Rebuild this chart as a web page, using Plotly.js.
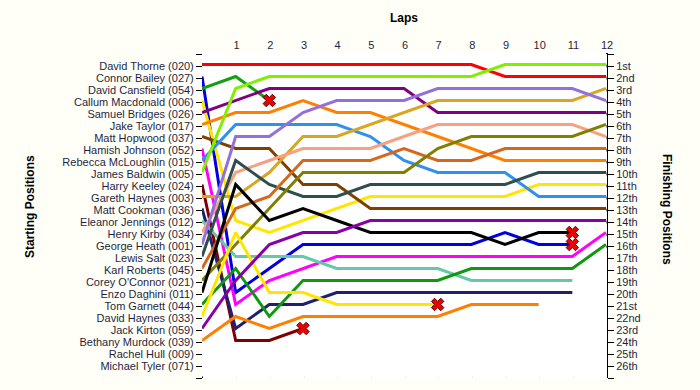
<!DOCTYPE html>
<html>
<head>
<meta charset="utf-8">
<script src="https://cdn.plot.ly/plotly-3.0.1.min.js"></script>
<style>
  html, body { margin: 0; padding: 0; background: #fffff8; }
  #chart { width: 700px; height: 390px; }
</style>
</head>
<body>
<div id="chart"></div>
<script>
// ---------- data ----------
const laps = [0, 1, 2, 3, 4, 5, 6, 7, 8, 9, 10, 11, 12];
const lapTickLabels = ["1", "2", "3", "4", "5", "6", "7", "8", "9", "10", "11", "12"];

const startingGrid = [
  "David Thorne (020)", "Connor Bailey (027)", "David Cansfield (054)", "Callum Macdonald (006)",
  "Samuel Bridges (026)", "Jake Taylor (017)", "Matt Hopwood (037)", "Hamish Johnson (052)",
  "Rebecca McLoughlin (015)", "James Baldwin (005)", "Harry Keeley (024)", "Gareth Haynes (003)",
  "Matt Cookman (036)", "Eleanor Jennings (012)", "Henry Kirby (034)", "George Heath (001)",
  "Lewis Salt (023)", "Karl Roberts (045)", "Corey O'Connor (021)", "Enzo Daghini (011)",
  "Tom Garnett (044)", "David Haynes (033)", "Jack Kirton (059)", "Bethany Murdock (039)",
  "Rachel Hull (009)", "Michael Tyler (071)"
];
const finishingLabels = [
  "1st", "2nd", "3rd", "4th", "5th", "6th", "7th", "8th", "9th", "10th", "11th", "12th", "13th",
  "14th", "15th", "16th", "17th", "18th", "19th", "20th", "21st", "22nd", "23rd", "24th", "25th", "26th"
];

// position on each lap (lap 0 = grid)
const thorne020    = [1, 1, 1, 1, 1, 1, 1, 1, 1, 2, 2, 2, 2];
const bailey027    = [2, 20, 18, 16, 16, 16, 16, 16, 16, 15, 16, 16];
const cansfield054 = [3, 2, 4];
const macdonald006 = [4, 14, 15, 14, 13, 12, 12, 12, 12, 12, 11, 11, 11];
const bridges026   = [5, 4, 3, 3, 3, 3, 3, 5, 5, 5, 5, 5, 5];
const taylor017    = [6, 5, 5, 4, 5, 5, 6, 7, 8, 9, 9, 9, 9];
const hopwood037   = [7, 8, 8, 11, 11, 13, 13, 13, 13, 13, 13, 13, 13];
const johnson052   = [8, 21, 19, 18, 17, 17, 17, 17, 17, 17, 17, 17, 15];
const mcloughlin015 = [9, 6, 6, 6, 6, 7, 9, 10, 10, 10, 12, 12, 12];
const baldwin005   = [10, 3, 2, 2, 2, 2, 2, 2, 2, 1, 1, 1, 1];
const keeley024    = [11, 24, 24, 23];
const haynesG003   = [12, 12, 10, 7, 7, 6, 5, 4, 4, 4, 4, 4, 3];
const cookman036   = [13, 23, 21, 21, 20, 20, 20, 20, 20, 20, 20, 20];
const jennings012  = [14, 17, 17, 17, 18, 18, 18, 18, 19, 19, 19, 19];
const kirby034     = [15, 10, 9, 8, 8, 8, 7, 6, 6, 6, 6, 6, 7];
const heath001     = [16, 7, 7, 5, 4, 4, 4, 3, 3, 3, 3, 3, 4];
const salt023      = [17, 9, 11, 12, 12, 11, 11, 11, 11, 11, 10, 10, 10];
const roberts045   = [18, 13, 12, 9, 9, 9, 8, 9, 9, 8, 8, 8, 8];
const oconnor021   = [19, 16, 13, 10, 10, 10, 10, 8, 7, 7, 7, 7, 6];
const daghini011   = [20, 11, 14, 13, 14, 15, 15, 15, 15, 16, 15, 15];
const garnett044   = [21, 18, 22, 19, 19, 19, 19, 19, 18, 18, 18, 18, 16];
const haynesD033   = [22, 15, 20, 20, 21, 21, 21, 21];
const kirton059    = [23, 19, 16, 15, 15, 14, 14, 14, 14, 14, 14, 14, 14];
const murdock039   = [24, 22, 23, 22, 22, 22, 22, 22, 21, 21, 21];

const retired = ["Connor Bailey (027)", "David Cansfield (054)", "Harry Keeley (024)",
                 "Enzo Daghini (011)", "David Haynes (033)"];

// ---------- series / styles ----------
const series = [
  ["David Thorne (020)", thorne020], ["Connor Bailey (027)", bailey027],
  ["David Cansfield (054)", cansfield054], ["Callum Macdonald (006)", macdonald006],
  ["Samuel Bridges (026)", bridges026], ["Jake Taylor (017)", taylor017],
  ["Matt Hopwood (037)", hopwood037], ["Hamish Johnson (052)", johnson052],
  ["Rebecca McLoughlin (015)", mcloughlin015], ["James Baldwin (005)", baldwin005],
  ["Harry Keeley (024)", keeley024], ["Gareth Haynes (003)", haynesG003],
  ["Matt Cookman (036)", cookman036], ["Eleanor Jennings (012)", jennings012],
  ["Henry Kirby (034)", kirby034], ["George Heath (001)", heath001],
  ["Lewis Salt (023)", salt023], ["Karl Roberts (045)", roberts045],
  ["Corey O'Connor (021)", oconnor021], ["Enzo Daghini (011)", daghini011],
  ["Tom Garnett (044)", garnett044], ["David Haynes (033)", haynesD033],
  ["Jack Kirton (059)", kirton059], ["Bethany Murdock (039)", murdock039]
];
const colors = [
  "#ff0000", "#0000e0", "#10a010", "#ffe600", "#800080", "#ff8000",
  "#7f4000", "#ff00ff", "#3090f0", "#80f000", "#800000", "#daa520",
  "#202070", "#66c8a8", "#f8a080", "#9370db", "#2f4f4f", "#d2691e",
  "#808000", "#000000", "#109910", "#ffe600", "#8800aa", "#ff8000"
];

// ---------- traces ----------
const shadowTraces = [];
const lineTraces = [];
const outX = [], outY = [];
series.forEach(([name, pos], i) => {
  const xs = laps.slice(0, pos.length);
  shadowTraces.push({
    x: xs, y: pos, xaxis: "x", yaxis: "y", mode: "lines", hoverinfo: "skip",
    line: { color: "rgba(105,105,105,0.8)", width: 3 }
  });
  lineTraces.push({
    x: xs, y: pos, xaxis: "x3", yaxis: "y3", mode: "lines", name: name,
    line: { color: colors[i], width: 3 }
  });
  if (retired.includes(name)) {
    outX.push(xs[xs.length - 1]);
    outY.push(pos[pos.length - 1]);
  }
});
const outShadow = {
  x: outX, y: outY, xaxis: "x", yaxis: "y", mode: "markers", hoverinfo: "skip",
  marker: { symbol: "x", size: 11, color: "rgba(90,90,90,0.8)", line: { width: 0 } }
};
const outMarks = {
  x: outX, y: outY, xaxis: "x3", yaxis: "y3", mode: "markers", name: "Retired",
  marker: { symbol: "x", size: 11, color: "#ee0000", line: { color: "#600000", width: 1 } }
};

// ---------- layout ----------
const W = 406, H = 328;           // plotting box (margin area)
const posTicks = Array.from({ length: 28 }, (_, k) => k);
const leftText = [""].concat(startingGrid, [""]);
const rightText = [""].concat(finishingLabels, [""]);
const labelFont = { family: "Liberation Sans, Arial, sans-serif", size: 11, color: "#1f1f3f" };
const titleFont = { family: "Liberation Sans, Arial, sans-serif", size: 12, color: "#000000" };

const layout = {
  width: 700, height: 390,
  margin: { l: 202, r: 92, t: 52, b: 10, pad: 0 },
  paper_bgcolor: "#fffff8",
  plot_bgcolor: "#ffffff",
  showlegend: false,
  font: labelFont,
  xaxis: {
    domain: [1 / W, 405 / W], range: [0, 12], side: "top", anchor: "y",
    tickvals: laps.slice(1), ticktext: lapTickLabels, tickfont: labelFont,
    ticks: "", showgrid: true, gridcolor: "#e6e6e6", gridwidth: 1,
    showline: true, linecolor: "#000000", linewidth: 1, zeroline: false, fixedrange: true
  },
  yaxis: {
    domain: [2 / H, 326 / H], range: [27, 0], anchor: "x",
    tickvals: posTicks, ticktext: leftText, tickfont: labelFont,
    ticks: "outside", ticklen: 6, tickcolor: "#000000", tickwidth: 1,
    showgrid: true, gridcolor: "#e6e6e6", gridwidth: 1,
    showline: true, linecolor: "#000000", linewidth: 1, zeroline: false, fixedrange: true
  },
  yaxis2: {
    overlaying: "y", side: "right", anchor: "x", range: [27, 0],
    tickvals: posTicks, ticktext: rightText, tickfont: labelFont,
    ticks: "outside", ticklen: 6, tickcolor: "#000000", tickwidth: 1,
    showgrid: false, showline: true, linecolor: "#000000", linewidth: 1,
    zeroline: false, fixedrange: true
  },
  xaxis3: { domain: [0, 404 / W], range: [0, 12], anchor: "y3", visible: false, fixedrange: true },
  yaxis3: { domain: [3.5 / H, 327.5 / H], range: [27, 0], anchor: "x3", visible: false, fixedrange: true },
  annotations: [
    { text: "<b>Laps</b>", xref: "paper", yref: "paper", x: (404 - 202) / W, y: (380 - 18) / H,
      showarrow: false, xanchor: "center", yanchor: "middle", font: titleFont },
    { text: "<b>Starting Positions</b>", xref: "paper", yref: "paper", x: (30 - 202) / W, y: (380 - 207) / H,
      showarrow: false, xanchor: "center", yanchor: "middle", textangle: -90, font: titleFont },
    { text: "<b>Finishing Positions</b>", xref: "paper", yref: "paper", x: (667 - 202) / W, y: (380 - 209) / H,
      showarrow: false, xanchor: "center", yanchor: "middle", textangle: 90, font: titleFont }
  ]
};

const rightAxisCarrier = {   // attaches the right-hand ordinal axis to the grid data
  x: laps.slice(0, thorne020.length), y: thorne020, xaxis: "x", yaxis: "y2",
  mode: "lines", hoverinfo: "skip", line: { color: "rgba(0,0,0,0)", width: 0 }
};

Plotly.newPlot("chart",
  shadowTraces.concat([outShadow, rightAxisCarrier], lineTraces, [outMarks]),
  layout, { displayModeBar: false, staticPlot: true });
</script>
</body>
</html>
